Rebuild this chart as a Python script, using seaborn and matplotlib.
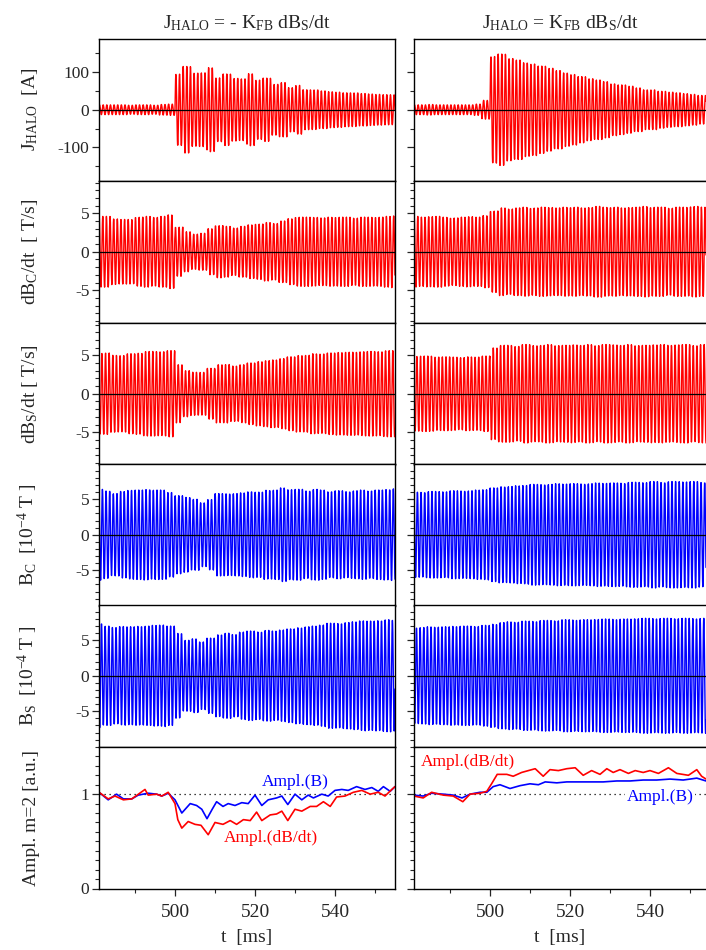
import numpy as np
import seaborn as sns
import matplotlib
matplotlib.use("Agg")
from matplotlib import pyplot as plt
from matplotlib.ticker import MultipleLocator, FixedLocator

# oscillation carrier (read from peak spacing) and envelope grid [ms]
FREQ_KHZ = 1.1
T_ENV = list(range(480, 557, 2))

# envelopes, left column (J_HALO = -K dBs/dt) and right column (J_HALO = K dBs/dt)
JH_L = [13, 13, 13, 13, 12, 13, 13, 12, 14, 15, 95, 115, 98, 98, 112, 85, 95, 84, 82, 96,
        79, 84, 68, 72, 59, 65, 53, 53, 50, 48, 47, 45, 45, 43, 42, 41, 40, 40, 40]
JH_R = [13, 13, 14, 13, 13, 13, 13, 13, 15, 25, 142, 148, 137, 132, 125, 122, 116, 111, 104, 98,
        94, 88, 83, 79, 75, 69, 66, 63, 58, 53, 53, 49, 47, 45, 43, 41, 38, 38, 38]
DBC_L = [4.6, 4.6, 4.3, 4.2, 4.2, 4.5, 4.6, 4.5, 4.6, 4.8, 3.2, 2.6, 2.3, 2.4, 3.0, 3.4, 3.3, 3.1, 3.3, 3.5,
         3.6, 3.8, 3.7, 4.0, 4.3, 4.5, 4.5, 4.5, 4.4, 4.5, 4.5, 4.5, 4.4, 4.5, 4.5, 4.5, 4.6, 4.7, 4.7]
DBC_R = [4.6, 4.5, 4.6, 4.6, 4.5, 4.4, 4.5, 4.6, 4.5, 4.7, 5.3, 5.7, 5.6, 5.7, 5.8, 5.7, 5.8, 5.8, 5.7, 5.8,
         5.8, 5.7, 5.8, 5.9, 5.8, 5.8, 5.7, 5.8, 5.8, 5.9, 5.8, 5.8, 5.7, 5.8, 5.8, 5.9, 5.8, 5.8, 5.8]
DBS_L = [5.3, 5.3, 5.0, 5.0, 5.2, 5.3, 5.5, 5.5, 5.5, 5.6, 3.8, 3.0, 2.8, 2.8, 3.3, 3.8, 3.8, 3.6, 3.8, 4.0,
         4.2, 4.3, 4.4, 4.6, 4.8, 5.0, 5.0, 5.2, 5.2, 5.3, 5.4, 5.4, 5.4, 5.5, 5.5, 5.5, 5.6, 5.6, 5.6]
DBS_R = [4.9, 4.9, 4.9, 4.8, 4.8, 4.8, 4.7, 4.8, 4.8, 4.9, 6.0, 6.3, 6.3, 6.2, 6.4, 6.3, 6.3, 6.4, 6.3, 6.3,
         6.4, 6.3, 6.4, 6.3, 6.4, 6.4, 6.3, 6.4, 6.3, 6.3, 6.4, 6.4, 6.3, 6.4, 6.4, 6.3, 6.4, 6.4, 6.4]
BC_L = [6.4, 6.2, 5.8, 6.1, 6.3, 6.3, 6.4, 6.3, 6.3, 6.0, 5.5, 5.3, 5.0, 4.5, 5.0, 5.8, 5.8, 5.8, 5.9, 6.1,
        6.0, 6.3, 6.3, 6.6, 6.4, 6.4, 6.2, 6.4, 6.3, 6.1, 6.2, 6.1, 6.2, 6.3, 6.2, 6.3, 6.4, 6.5, 6.5]
BC_R = [6.0, 6.0, 6.1, 6.1, 6.1, 6.2, 6.2, 6.2, 6.3, 6.4, 6.6, 6.8, 6.8, 6.9, 7.0, 7.1, 7.1, 7.1, 7.2, 7.2,
        7.2, 7.2, 7.2, 7.3, 7.3, 7.3, 7.3, 7.4, 7.4, 7.4, 7.5, 7.4, 7.5, 7.5, 7.5, 7.5, 7.4, 7.4, 7.4]
BS_L = [7.4, 7.0, 6.8, 7.0, 6.9, 7.0, 7.0, 7.1, 7.2, 7.0, 6.0, 5.0, 5.2, 4.8, 5.3, 5.8, 6.0, 5.8, 6.2, 6.3,
        6.2, 6.4, 6.3, 6.5, 6.6, 6.8, 6.9, 7.0, 7.2, 7.4, 7.4, 7.5, 7.6, 7.8, 7.7, 7.8, 7.9, 7.8, 7.8]
BS_R = [6.8, 6.8, 6.9, 6.9, 6.9, 7.0, 7.0, 7.0, 7.0, 7.1, 7.3, 7.5, 7.6, 7.6, 7.7, 7.7, 7.8, 7.8, 7.8, 7.9,
        7.9, 7.9, 7.9, 8.0, 8.0, 8.0, 8.0, 8.0, 8.1, 8.1, 8.1, 8.1, 8.1, 8.1, 8.1, 8.1, 8.1, 8.1, 8.1]

# m=2 amplitudes (bottom row)
AMP_L_T_B = [481, 483.3, 485.4, 487.1, 489.2, 490.8, 493.3, 495.4, 496.7, 498.3, 500, 501.7, 503.8, 505.4,
             506.7, 508, 509.3, 510.4, 512, 513.3, 515, 516.7, 518.3, 520, 521.7, 523.3, 525.4, 526.7,
             528.2, 530, 531.7, 533.3, 534.6, 536.7, 538.3, 540, 541.7, 543.3, 545.4, 547.5, 549.2,
             550.8, 552.1, 553.8, 555]
AMP_L_B = [1.02, 0.94, 1.0, 0.95, 0.95, 0.99, 1.01, 1.0, 0.98, 1.01, 0.94, 0.80, 0.9, 0.88, 0.84, 0.74,
           0.84, 0.92, 0.87, 0.9, 0.88, 0.91, 0.9, 0.99, 0.88, 0.94, 0.96, 0.98, 0.89, 1.0, 0.94, 0.99,
           0.96, 1.0, 0.98, 1.04, 1.05, 1.04, 1.08, 1.05, 1.07, 1.03, 1.08, 1.03, 1.08]
AMP_L_T_DB = [481, 483.3, 485, 487.1, 489.2, 492.5, 493.3, 495.4, 496.7, 498.3, 500, 500.7, 501.7, 503.3,
              505, 506.5, 508.3, 510, 512, 513.8, 515.4, 517.1, 518.8, 520.4, 521.7, 523.8, 525.4, 526.7,
              528.2, 530, 531.7, 533.8, 535.4, 537.1, 538.8, 540.4, 542.5, 544.6, 546.7, 548.8, 550.8,
              552.5, 554.2, 555]
AMP_L_DB = [1.02, 0.95, 0.98, 0.94, 0.95, 1.05, 0.99, 1.0, 0.98, 1.02, 0.9, 0.73, 0.64, 0.71, 0.68, 0.67,
            0.57, 0.7, 0.68, 0.72, 0.68, 0.73, 0.72, 0.81, 0.72, 0.78, 0.79, 0.82, 0.72, 0.84, 0.82, 0.87,
            0.87, 0.92, 0.87, 0.97, 0.98, 1.02, 1.04, 1.0, 1.02, 0.98, 1.05, 1.08]
AMP_R_T_DB = [481, 483.3, 485.4, 488.3, 490.8, 493.2, 495, 497.5, 499.2, 500.4, 501.8, 504.2, 505.8, 507.9,
              509.6, 511.3, 513.3, 515, 517.1, 519.2, 521.3, 523.3, 525.4, 527.5, 529.2, 530.8, 532.5,
              534.6, 536.3, 538.3, 540, 542.1, 544.6, 546.7, 549.6, 551.7, 552.9, 554]
AMP_R_DB = [0.98, 0.96, 1.02, 0.99, 0.98, 0.92, 1.0, 1.01, 1.03, 1.11, 1.21, 1.21, 1.19, 1.23, 1.25, 1.27,
            1.19, 1.26, 1.25, 1.27, 1.28, 1.2, 1.25, 1.21, 1.27, 1.23, 1.26, 1.22, 1.25, 1.23, 1.25, 1.22,
            1.28, 1.22, 1.2, 1.26, 1.19, 1.16]
AMP_R_T_B = [481, 483.3, 485.4, 488.3, 490.8, 493, 495, 497.5, 499.2, 500.8, 502.5, 505, 507.5, 510, 512.1,
             513.8, 516.7, 519.2, 521.7, 525, 528.3, 531.7, 535, 538.3, 541.7, 545, 548.3, 551.7, 554]
AMP_R_B = [0.99, 0.98, 1.01, 1.0, 0.99, 0.96, 1.0, 1.02, 1.02, 1.08, 1.1, 1.06, 1.09, 1.11, 1.1, 1.13,
           1.12, 1.13, 1.13, 1.13, 1.13, 1.14, 1.14, 1.15, 1.15, 1.16, 1.15, 1.17, 1.14]

TITLES = [r"J$_\mathrm{HALO}$ = - K$_\mathrm{FB}$ dB$_\mathrm{S}$/dt",
          r"J$_\mathrm{HALO}$ = K$_\mathrm{FB}$ dB$_\mathrm{S}$/dt"]
YLABELS = [r"J$_\mathrm{HALO}$  [A]", r"dB$_\mathrm{C}$/dt  [ T/s]", r"dB$_\mathrm{S}$/dt [ T/s]",
           r"B$_\mathrm{C}$  [10$^{-4}$ T ]", r"B$_\mathrm{S}$  [10$^{-4}$ T ]", "Ampl. m=2 [a.u.]"]

sns.set_style("ticks")
plt.rcParams["font.family"] = ["Liberation Serif", "DejaVu Serif"]
plt.rcParams["mathtext.fontset"] = "custom"
plt.rcParams["mathtext.rm"] = "Liberation Serif"
plt.rcParams["mathtext.it"] = "Liberation Serif:italic"
plt.rcParams["axes.unicode_minus"] = False

RED, BLUE = "#ff0000", "#0000ff"


def wave(env, t, phase=0.0):
    # each cycle takes the envelope value of the 2 ms bin it falls in
    idx = np.clip(np.searchsorted(T_ENV, t, side="right") - 1, 0, len(T_ENV) - 1)
    return np.asarray(env)[idx] * np.sin(2 * np.pi * FREQ_KHZ * t + phase)


fig = plt.figure(figsize=(7.06, 9.5), dpi=100)
W, H = 706, 950
row_tops = [39, 181, 323, 464, 605, 747]
row_h = 141.5
cols = [(99, 296, (481, 555)), (414, 292, (481, 554))]

signals = [
    (JH_L, JH_R, RED, 188, 100, 50, 0.0),
    (DBC_L, DBC_R, RED, 9.2, 5, 1, 0.7),
    (DBS_L, DBS_R, RED, 9.2, 5, 1, 2.2),
    (BC_L, BC_R, BLUE, 9.97, 5, 1, 1.3),
    (BS_L, BS_R, BLUE, 9.97, 5, 1, 2.9),
]

for c, (x0, w, xlim) in enumerate(cols):
    t = np.arange(xlim[0], xlim[1] + 0.001, 0.05)
    for r, top in enumerate(row_tops):
        ax = fig.add_axes([x0 / W, 1 - (top + row_h) / H, w / W, row_h / H])
        if r < 5:
            env_l, env_r, color, ylim, major, minor, ph = signals[r]
            y = wave(env_l if c == 0 else env_r, t, ph)
            sns.lineplot(x=t, y=y, ax=ax, color=color, lw=1.0, legend=False)
            ax.axhline(0, color="black", lw=0.9, zorder=5)
            ax.set_ylim(-ylim, ylim)
        else:
            if c == 0:
                tb, b, tdb, db = AMP_L_T_B, AMP_L_B, AMP_L_T_DB, AMP_L_DB
            else:
                tb, b, tdb, db = AMP_R_T_B, AMP_R_B, AMP_R_T_DB, AMP_R_DB
            ax.axhline(1, color="black", lw=0.9, ls=(0, (1, 3)), zorder=1)
            sns.lineplot(x=tb, y=b, ax=ax, color=BLUE, lw=1.2, legend=False)
            sns.lineplot(x=tdb, y=db, ax=ax, color=RED, lw=1.2, legend=False)
            ax.set_ylim(0, 1.5)
            major, minor = 1, 0.1
            if c == 0:
                ax.text(530, 1.13, "Ampl.(B)", color=BLUE, fontsize=12.5, ha="center", va="center")
                ax.text(524, 0.54, "Ampl.(dB/dt)", color=RED, fontsize=12.5, ha="center", va="center")
            else:
                ax.text(494.5, 1.34, "Ampl.(dB/dt)", color=RED, fontsize=12.5, ha="center", va="center")
                ax.text(542.5, 0.97, "Ampl.(B)", color=BLUE, fontsize=12.5, ha="center", va="center",
                        bbox=dict(facecolor="white", edgecolor="none", pad=1))
        ax.set_xlim(*xlim)
        ax.yaxis.set_major_locator(MultipleLocator(major))
        ax.yaxis.set_minor_locator(MultipleLocator(minor))
        ax.xaxis.set_major_locator(FixedLocator([500, 520, 540]))
        ax.xaxis.set_minor_locator(FixedLocator([490, 510, 530, 550]))
        ax.tick_params(which="major", direction="out", length=5, width=0.9, top=False, right=False)
        ax.tick_params(which="minor", direction="out", length=3, width=0.8, top=False, right=False)
        ax.tick_params(axis="y", labelsize=12.5, pad=2)
        ax.tick_params(axis="x", labelsize=14, pad=6)
        for s in ax.spines.values():
            s.set_linewidth(1.0)
            s.set_color("black")
        if c == 1:
            ax.spines["right"].set_visible(False)
            ax.tick_params(axis="y", labelleft=False)
        else:
            ax.set_ylabel(YLABELS[r], fontsize=14)
            ax.yaxis.set_label_coords(-0.2, 0.5)
        if r < 5:
            ax.tick_params(axis="x", labelbottom=False)
            ax.set_xlabel("")
        else:
            ax.set_xlabel("t  [ms]", fontsize=14, labelpad=6)
        if r == 0:
            ax.set_title(TITLES[c], fontsize=14, pad=8)

fig.savefig("out.png", dpi=100)
